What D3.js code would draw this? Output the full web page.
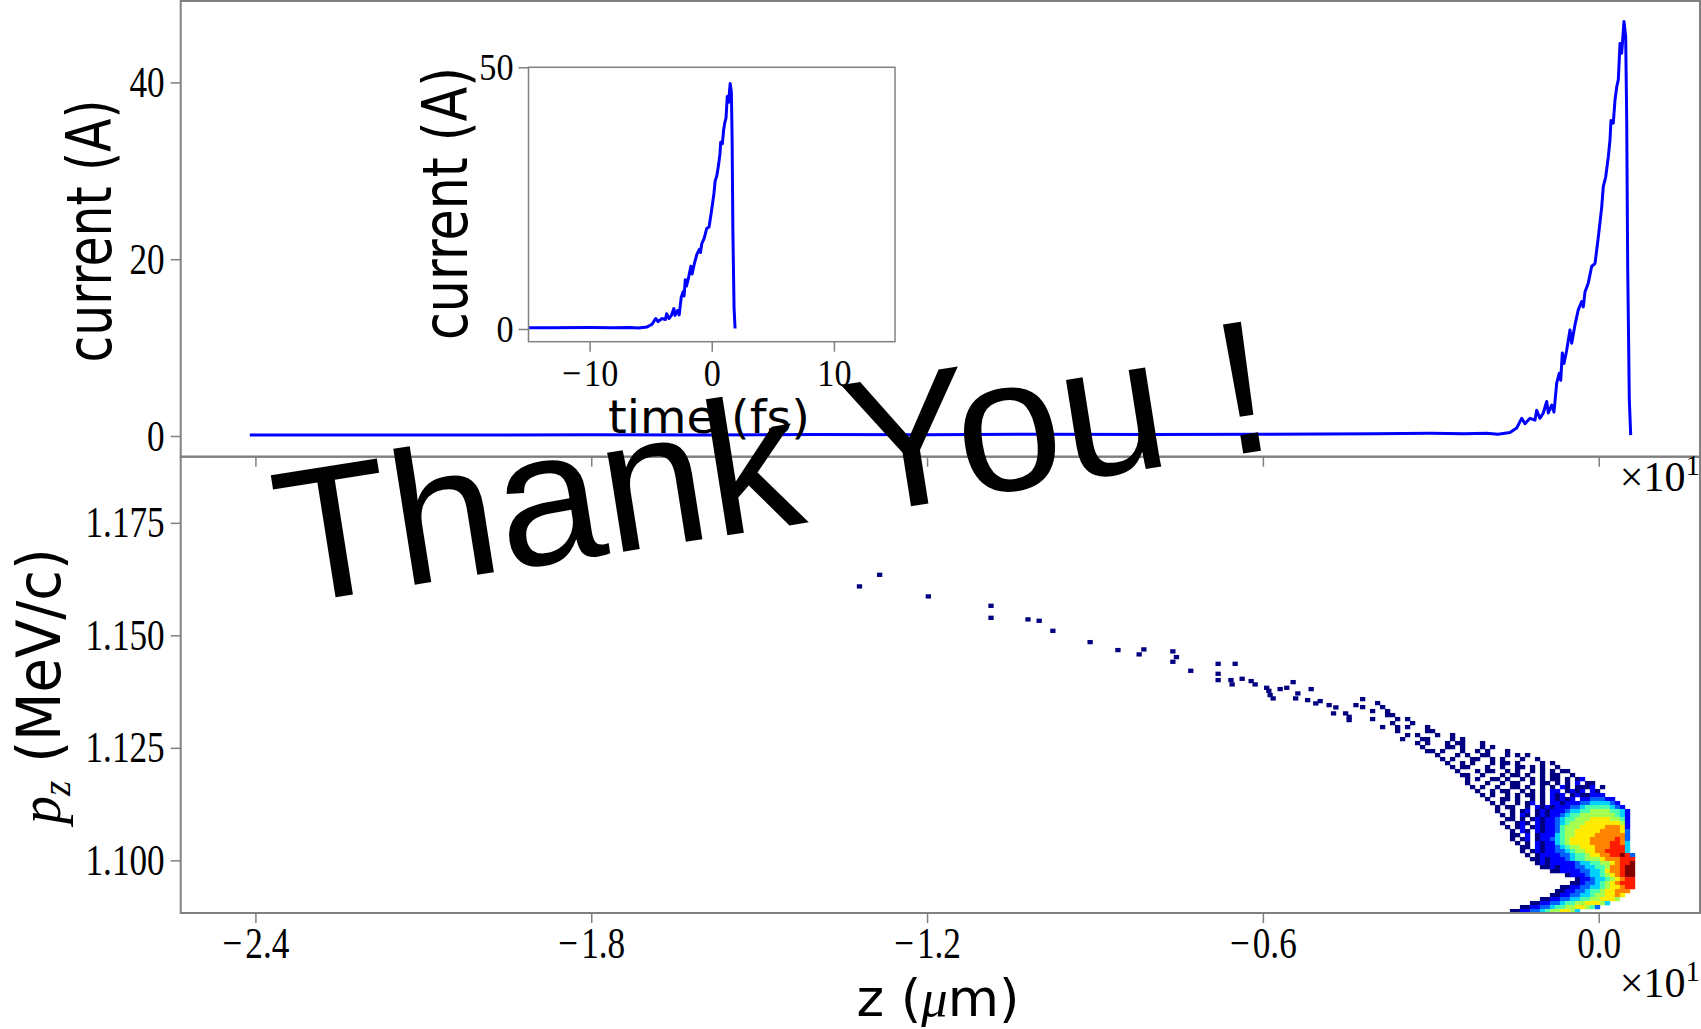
<!DOCTYPE html>
<meta charset="utf-8">
<style>
  body { margin: 0; background: #fff; }
  svg { display: block; }
</style>
<svg id="fig" width="1701" height="1029"></svg>
<script src="https://d3js.org/d3.v7.min.js"></script>
<script>

// current profile (z in um, current in A)
var zProfile = [-24.1, -22, -20, -18, -16, -14, -12, -10, -8, -6, -4, -3, -2.4, -2.0, -1.8,
  -1.585, -1.465, -1.376, -1.317, -1.227, -1.138, -1.108, -1.049, -0.990, -0.929, -0.900,
  -0.840, -0.799, -0.750, -0.704, -0.679, -0.650, -0.620, -0.572, -0.513, -0.482, -0.423,
  -0.364, -0.304, -0.275, -0.245, -0.186, -0.125, -0.066, -0.007, 0.054, 0.082, 0.125,
  0.172, 0.202, 0.220, 0.261, 0.291, 0.322, 0.350, 0.381, 0.411, 0.452, 0.482, 0.500,
  0.518, 0.547, 0.572]
var currentProfile = [0.1, 0.12, 0.1, 0.15, 0.12, 0.18, 0.15, 0.2, 0.18, 0.2, 0.25, 0.3, 0.25, 0.3, 0.2,
  0.4, 0.9, 2.0, 1.4, 2.0, 1.8, 2.9, 2.0, 2.6, 3.9, 2.6,
  3.5, 2.7, 6.0, 7.1, 6.3, 9.4, 8.2, 9.7, 12.0, 10.5, 12.6,
  14.3, 15.2, 14.6, 16.3, 17.3, 19.2, 19.5, 22.5, 25.9, 28.2, 29.3,
  31.6, 33.5, 35.7, 35.4, 38.0, 39.5, 40.3, 44.4, 43.3, 46.9, 45.2, 36.1,
  19.2, 4.1, 0.1]

// ticks
var zTicks = [-24, -18, -12, -6, 0]
var currentTicks = [0, 20, 40]
var pzTicks = [1.100, 1.125, 1.150, 1.175]
var timeTicks = [-10, 0, 10]
var insetCurrentTicks = [0, 50]

// sparse tail of the phase space (bin centres, z in um, pz in MeV/c)
var tailZ = [-13.21, -12.85, -11.98, -10.86, -10.86, -10.20, -10.00, -9.755, -9.089, -8.592,
  -8.129, -8.213, -7.611, -7.547, -7.611, -7.291, -6.802, -6.498, -6.802, -6.802, -6.573,
  -6.552, -6.373, -6.212, -6.141, -5.935, -5.896, -5.873, -5.819, -5.694, -5.576, -5.462,
  -5.378, -5.140, -5.417, -5.203, -5.058, -4.979, -4.819, -4.699, -4.740, -4.524, -4.461,
  -4.340, -4.461]
var tailPz = [1.16091, 1.16349, 1.15869, 1.15660, 1.15393, 1.15358, 1.15327, 1.15104, 1.14853, 1.14676,
  1.14691, 1.14580, 1.14647, 1.14520, 1.14416, 1.14216, 1.14371, 1.14371, 1.14149, 1.14009, 1.14009,
  1.13913, 1.14038, 1.13987, 1.13913, 1.13838, 1.13771, 1.13676, 1.13602, 1.13809, 1.13838, 1.13964,
  1.13713, 1.13809, 1.13602, 1.13564, 1.13491, 1.13542, 1.13453, 1.13402, 1.13269, 1.13269, 1.13193,
  1.13453, 1.13120]

// dense part of the phase space, one string per pz row (top row first)
// '.' empty, '1'..'9','X' colour level
var gridZ0 = -4.265, gridDz = 0.0893, gridPzTop = 1.13720, gridDpz = 0.000889
var gridStart = [0, 0, 3, 0, 2, 5, 2, 6, 4, 7, 9, 8, 11, 12, 13, 15, 16, 17, 18, 19, 20, 21, 21, 22,
  23, 24, 25, 26, 26, 27, 28, 28, 28, 29, 29, 30, 30, 31, 31, 32, 33, 34, 35, 36, 38, 41,
  43, 42, 40, 39, 38, 36, 34, 32, 30]
var gridRows = [
  "", "1", "1", "1...1", "1..1", "11", "1....1.1", "1...1", "1..1.1...1", "1.....11",
  "1.1...1..1", "1...11....1.1", "1.1...1.11...1", "1....11.1...1.1", "11.1...1..1.1...1",
  "1...1.1..11...1.1.1", "1.1...11..1.1...1..1", "1..1.1...1.11.1....1.1",
  "1.11...1..1..11.1.1..1", "1...1.11..1.1..1.1.1.11", "11..1...1.11.1..1.11..1",
  "1.1..11.1..1.1.1.11.1.12", "1...1..1.11..1.11.1.1.2.11", "1.1..1..11.1..1.1.21.1112.1",
  "1..1.11..1.1.1.2" + "2.1212.21",
  "1.1..1.1.11.1.2" + "12.1211222",
  "1..11.1..1.1.2" + "1212.2233322",
  "1.1..1.12.1.2" + "2122233444432",
  ".1.11..1.2121" + "22233455555432",
  "1..1.12.1212" + "223445566665542",
  "1.1.21.1212" + "234556666666542",
  ".11.1.12122" + "345566677776652",
  "1..121.2122" + "345666777777762",
  "1.12.12122" + "356667777788872",
  ".1.21.2122" + "356677777888873",
  "11.2.1222" + "456677778888883",
  "1.12.1223" + "456777788888983",
  "1.1.2122" + "456777788889984",
  ".11.2122" + "345667778889994",
  "1.12122" + "334566778899994",
  "1.1222" + "2334556778899X93",
  "1121222" + "3455666" + "78889" + "99",
  "12122222" + "3445566" + "789" + "9X",
  "11212223" + "344556" + "889" + "XX",
  "1122223" + "3445" + "788" + "9XX",
  "12223" + "445" + "678" + "9XX",
  "122344567899", "1123345678999", "112233445677899",
  "112233455677888", "112233445667787", "1122334455667776", "1122334556677764",
  "1122334556677653", "11223345667764"]

var W = 1701, H = 1029
var svg = d3.select("#fig")

var levels = { "1": 0, "2": 0.11, "3": 0.22, "4": 0.33, "5": 0.44, "6": 0.55, "7": 0.66, "8": 0.77, "9": 0.88, "X": 1 }

// matplotlib jet
var jetR = d3.scaleLinear().domain([0, 0.35, 0.66, 0.89, 1]).range([0, 0, 1, 1, 0.5])
var jetG = d3.scaleLinear().domain([0, 0.125, 0.375, 0.64, 0.91, 1]).range([0, 0, 1, 1, 0, 0])
var jetB = d3.scaleLinear().domain([0, 0.11, 0.34, 0.65, 1]).range([0.5, 1, 1, 0, 0])
function jet(v) {
  return d3.rgb(jetR(v) * 255, jetG(v) * 255, jetB(v) * 255).toString()
}

var SERIF = "'Liberation Serif', 'DejaVu Serif', serif"
var SANS = "'DejaVu Sans', 'Liberation Sans', sans-serif"
var GREY = "#808080"

// panel geometry
var left = 180.7, right = 1700
var topY0 = 1, topY1 = 456.7, botY1 = 913

var x = d3.scaleLinear().domain([-25.335, 1.81]).range([left, right])
var yTop = d3.scaleLinear().domain([-2.342, 49.21]).range([topY1, topY0])
var yBot = d3.scaleLinear().domain([1.0883, 1.1897]).range([botY1, topY1])

var inL = 528.5, inR = 895, inT = 67.3, inB = 341.7
var xIn = d3.scaleLinear().domain([-15, 15]).range([inL, inR])
var yIn = d3.scaleLinear().domain([-2.43, 50]).range([inB, inT])

var profile = zProfile.map(function(z, i) { return { z: z, c: currentProfile[i] } })

function styleAxis(g, size, sx) {
  g.select(".domain").remove()
  g.selectAll(".tick line").attr("stroke", GREY).attr("stroke-width", 1.5)
  g.selectAll(".tick text")
    .attr("font-family", SERIF).attr("font-size", size).attr("fill", "#000")
    .each(function() {
      var t = d3.select(this)
      var tx = +t.attr("x") || 0, ty = +t.attr("y") || 0
      t.attr("x", 0).attr("y", 0)
        .attr("transform", "translate(" + tx + "," + ty + ") scale(" + sx + ",1)")
    })
}

function minus(s) { return s.replace("-", "\u2212\u200a") }

// ---------- top panel: current vs z ----------
svg.append("defs").append("clipPath").attr("id", "clipTop")
  .append("rect").attr("x", left).attr("y", topY0).attr("width", right - left).attr("height", topY1 - topY0)

svg.append("path")
  .datum(profile)
  .attr("clip-path", "url(#clipTop)")
  .attr("fill", "none")
  .attr("stroke", "#0000ff")
  .attr("stroke-width", 3)
  .attr("stroke-linejoin", "round")
  .attr("d", d3.line().x(function(d) { return x(d.z) }).y(function(d) { return yTop(d.c) }))

svg.append("g")
  .attr("transform", "translate(" + left + ",0)")
  .call(d3.axisLeft(yTop).tickValues(currentTicks).tickSize(10).tickPadding(6))
  .call(styleAxis, 44, 0.8)

svg.append("g")
  .attr("transform", "translate(0," + topY1 + ")")
  .call(d3.axisBottom(x).tickValues(zTicks).tickSize(10).tickFormat(""))
  .call(styleAxis, 44, 0.8)

// ---------- bottom panel: pz vs z ----------
svg.append("defs").append("clipPath").attr("id", "clipBot")
  .append("rect").attr("x", left).attr("y", topY1).attr("width", right - left).attr("height", botY1 - topY1)

var heat = svg.append("g").attr("clip-path", "url(#clipBot)")
var cellW = x(gridDz) - x(0)
var cellH = yBot(0) - yBot(gridDpz)

var cells = []
gridRows.forEach(function(row, r) {
  for (var i = 0; i < row.length; i++) {
    var ch = row[i]
    if (ch === ".") continue
    cells.push({ z: gridZ0 + (gridStart[r] + i) * gridDz, pz: gridPzTop - r * gridDpz, v: levels[ch] })
  }
})
tailZ.forEach(function(z, i) {
  cells.push({ z: z - gridDz / 2, pz: tailPz[i] + gridDpz / 2, v: 0 })
})

heat.selectAll("rect")
  .data(cells)
  .enter().append("rect")
  .attr("x", function(d) { return x(d.z) })
  .attr("y", function(d) { return yBot(d.pz) })
  .attr("width", cellW + 0.3)
  .attr("height", cellH + 0.3)
  .attr("fill", function(d) { return jet(d.v) })

svg.append("g")
  .attr("transform", "translate(" + left + ",0)")
  .call(d3.axisLeft(yBot).tickValues(pzTicks).tickSize(10).tickPadding(6).tickFormat(d3.format(".3f")))
  .call(styleAxis, 44, 0.8)

svg.append("g")
  .attr("transform", "translate(0," + botY1 + ")")
  .call(d3.axisBottom(x).tickValues(zTicks).tickSize(10).tickPadding(4)
    .tickFormat(function(d) { return minus((d / 10).toFixed(1)) }))
  .call(styleAxis, 44, 0.8)

// frames
svg.append("rect").attr("x", left).attr("y", topY0).attr("width", right - left).attr("height", topY1 - topY0)
  .attr("fill", "none").attr("stroke", GREY).attr("stroke-width", 2)
svg.append("rect").attr("x", left).attr("y", topY1).attr("width", right - left).attr("height", botY1 - topY1)
  .attr("fill", "none").attr("stroke", GREY).attr("stroke-width", 2)

// offset labels
function offsetLabel(xr, yb) {
  var t = svg.append("text").attr("x", xr).attr("y", yb)
    .attr("text-anchor", "end").attr("font-family", SERIF).attr("font-size", 42)
  t.append("tspan").text("\u00d710")
  t.append("tspan").attr("dy", -16).attr("font-size", 29).text("1")
}
offsetLabel(1700, 491)
offsetLabel(1700, 997)

// axis labels
svg.append("text")
  .attr("transform", "translate(111,231) rotate(-90)")
  .attr("text-anchor", "middle")
  .attr("font-family", SANS).attr("font-size", 62)
  .attr("textLength", 263).attr("lengthAdjust", "spacingAndGlyphs")
  .text("current (A)")

var pzLabel = svg.append("text")
  .attr("transform", "translate(60,686) rotate(-90)")
  .attr("text-anchor", "middle")
  .attr("font-size", 60)
  .attr("textLength", 276).attr("lengthAdjust", "spacingAndGlyphs")
pzLabel.append("tspan").attr("font-family", SERIF).attr("font-style", "italic").text("p")
pzLabel.append("tspan").attr("font-family", SERIF).attr("font-style", "italic")
  .attr("font-size", 42).attr("dy", 10).text("z")
pzLabel.append("tspan").attr("font-family", SANS).attr("dy", -10).text(" (MeV/c)")

var zLabel = svg.append("text")
  .attr("x", 938).attr("y", 1016)
  .attr("text-anchor", "middle")
  .attr("font-family", SANS).attr("font-size", 52)
  .attr("textLength", 163).attr("lengthAdjust", "spacingAndGlyphs")
zLabel.append("tspan").text("z (")
zLabel.append("tspan").attr("font-family", SERIF).attr("font-style", "italic").text("\u03bc")
zLabel.append("tspan").text("m)")

// ---------- inset: current vs time ----------
var inset = svg.append("g")
inset.append("rect").attr("x", inL).attr("y", inT).attr("width", inR - inL).attr("height", inB - inT)
  .attr("fill", "#fff")

inset.append("defs").append("clipPath").attr("id", "clipIn")
  .append("rect").attr("x", inL).attr("y", inT).attr("width", inR - inL).attr("height", inB - inT)

// t = z / c, c = 0.29979 um/fs
inset.append("path")
  .datum(profile)
  .attr("clip-path", "url(#clipIn)")
  .attr("fill", "none")
  .attr("stroke", "#0000ff")
  .attr("stroke-width", 3)
  .attr("stroke-linejoin", "round")
  .attr("d", d3.line().x(function(d) { return xIn(d.z / 0.29979) }).y(function(d) { return yIn(d.c) }))

inset.append("g")
  .attr("transform", "translate(" + inL + ",0)")
  .call(d3.axisLeft(yIn).tickValues(insetCurrentTicks).tickSize(10).tickPadding(5))
  .call(styleAxis, 38, 0.9)

inset.append("g")
  .attr("transform", "translate(0," + inB + ")")
  .call(d3.axisBottom(xIn).tickValues(timeTicks).tickSize(10).tickPadding(7)
    .tickFormat(function(d) { return minus(String(d)) }))
  .call(styleAxis, 38, 0.9)

inset.append("rect").attr("x", inL).attr("y", inT).attr("width", inR - inL).attr("height", inB - inT)
  .attr("fill", "none").attr("stroke", GREY).attr("stroke-width", 1.5)

inset.append("text")
  .attr("transform", "translate(467,203.5) rotate(-90)")
  .attr("text-anchor", "middle")
  .attr("font-family", SANS).attr("font-size", 62)
  .attr("textLength", 273).attr("lengthAdjust", "spacingAndGlyphs")
  .text("current (A)")

inset.append("text")
  .attr("x", 709).attr("y", 433)
  .attr("text-anchor", "middle")
  .attr("font-family", SANS).attr("font-size", 46)
  .attr("textLength", 202).attr("lengthAdjust", "spacingAndGlyphs")
  .text("time (fs)")

// ---------- overlay ----------
svg.append("text")
  .attr("transform", "translate(287,605) rotate(-9)")
  .attr("font-family", "'Liberation Sans', Arial, sans-serif")
  .attr("font-size", 190)
  .attr("fill", "#000")
  .text("Thank You !")

</script>
